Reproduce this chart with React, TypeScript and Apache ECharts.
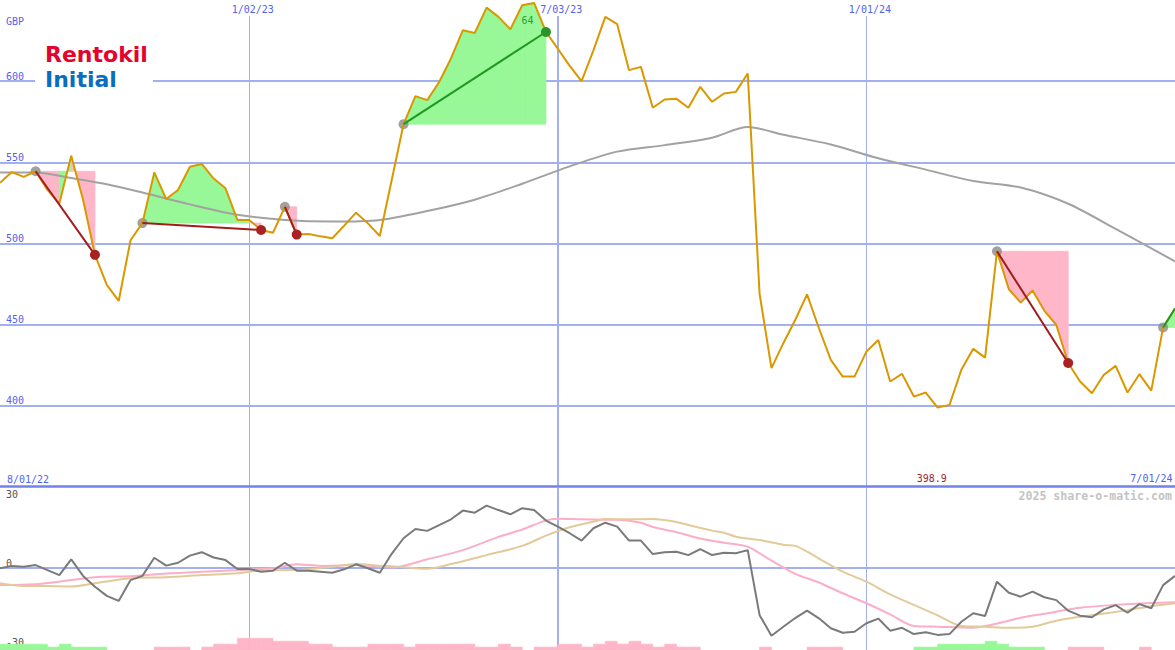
import React, { useEffect, useRef } from "react";
import * as echarts from "echarts";

// ---------- data ----------
const START_MS = Date.UTC(2022, 7, 8); // first weekly point (Monday)
const WEEK_MS = 7 * 86400000;
const WEEK_COUNT = 100;
const DATES: string[] = Array.from({ length: WEEK_COUNT }, (_, i) => {
  const d = new Date(START_MS + i * WEEK_MS);
  return `${d.getUTCMonth() + 1}/${String(d.getUTCDate()).padStart(2, "0")}/${String(d.getUTCFullYear() % 100).padStart(2, "0")}`;
});
const RANGE_START_LABEL = "8/01/22";
const CURRENCY = "GBP";
const WATERMARK = "2025 share-o-matic.com";

const PRICE = [
  537.4, 544, 541, 544.5, 533, 524.7, 554, 527, 493, 474.5,
  464.6, 502, 512.6, 543.8, 527.4, 533, 547.3, 549, 540, 534,
  514.5, 514.5, 508.3, 506.6, 522.6, 505.5, 505.8, 504.4, 503.2, 511,
  519, 512.4, 504.6, 539, 573.5, 590.8, 588.3, 599.5, 614, 631.4,
  629.7, 645.3, 639.6, 632, 646.8, 648.2, 630.3, 620, 609.4, 600,
  619, 639.6, 635.1, 606.8, 608.8, 583.6, 588.7, 589.1, 583.6, 596.5,
  587.3, 592.4, 593.4, 604.7, 469, 423.2, 438.6, 452.9, 468.7, 447.8,
  428.3, 418, 418, 433.4, 440.6, 415, 419.7, 405.7, 408.2, 398.9,
  400.6, 422.2, 435.1, 429.7, 495.2, 471.8, 463.6, 471, 458.5, 449.8,
  426.4, 415, 407.8, 419.1, 424.6, 408.2, 419.5, 409.4, 448.3, 460,
];

// long moving average: [week index, value]
const MA_LONG = [
  [0, 543.8], [3, 543.8], [6, 540.3], [9, 536.5], [12, 531.4], [16, 524.1],
  [20, 517.7], [24, 514.5], [28, 513.5], [32, 514.5], [36, 520], [40, 527],
  [44, 536.8], [48, 547.5], [52, 556.6], [56, 560.6], [60, 565.2], [63, 571.8],
  [66, 567], [70, 561], [74, 552.5], [78, 545.5], [82, 538.5], [86, 534.5],
  [90, 524.5], [94, 509], [99, 489],
];

const MOMENTUM = [
  -0.1, 0.8, 0.5, 1.1, -0.8, -2.7, 3.3, -3, -7.1, -10.6,
  -12.5, -4.6, -3, 3.9, 0.9, 2, 4.7, 6, 4, 3,
  -0.4, -0.4, -1.4, -1, 2, -1, -1, -1.4, -1.8, -0.5,
  1.4, -0.1, -1.8, 5.4, 11.3, 14.8, 14.1, 16.3, 18.5, 21.8,
  21, 23.7, 22, 20.4, 22.7, 22, 18, 15.7, 13.2, 10.4,
  15.1, 17.2, 15.7, 10.4, 10.4, 5.3, 6, 6.2, 4.9, 7.2,
  4.9, 5.8, 5.6, 6.8, -17.9, -25.7, -22.3, -19, -16.2, -19.1,
  -22.9, -24.6, -24.2, -21, -19.2, -23.8, -22.7, -25.1, -24.4, -25.4,
  -25.1, -20.4, -17.2, -18.2, -5.2, -9.4, -10.9, -9, -11.1, -12.2,
  -16.2, -18.1, -18.7, -15.7, -14.1, -17, -13.7, -15.3, -6.5, -3,
];

const PINK_AVG = [
  [0, -6.5], [3, -6.2], [6, -4.6], [8, -3.5], [11, -3.1], [14, -2.1], [17, -1.4],
  [20, -0.8], [23, -0.1], [25, 1.4], [27, 0.8], [30, 1.1], [33, 0.2], [36, 3.3],
  [39, 6.8], [42, 11.8], [44, 14.6], [46, 18.1], [47, 18.7], [49, 18.5], [52, 18.3],
  [54, 17.2], [55, 15.6], [57, 13.6], [59, 11.2], [61, 9.6], [63, 8.1], [64, 5.6],
  [65, 2.8], [67, -2.2], [69, -5.5], [71, -9.6], [73, -13.4], [75, -17.6], [77, -22],
  [79, -22.3], [82, -22.7], [84, -21.1], [86, -18.9], [88, -17.4], [91, -15.1],
  [94, -14], [97, -13.3], [99, -13],
];

const TAN_AVG = [
  [0, -5.8], [2, -6.8], [4, -6.8], [6, -7], [8, -5.8], [11, -3.9], [14, -3.5],
  [17, -2.7], [20, -2], [22, -0.9], [25, -0.8], [28, 0.5], [30, 1.5], [32, 0.8],
  [33, 0.7], [36, -0.3], [38, 1.5], [41, 4.9], [44, 8.4], [46, 12.3], [48, 15.5],
  [50, 17.6], [51, 18.6], [53, 18.5], [55, 18.6], [57, 17.5], [58, 16.3], [60, 14.2],
  [61, 13.4], [62, 11.9], [64, 10.6], [66, 8.8], [67, 8.4], [68, 6.2], [69, 3.6],
  [71, -1.4], [73, -5.2], [75, -10], [77, -14], [79, -18], [81, -22], [83, -22.3],
  [85, -22.7], [87, -22.3], [89, -20], [92, -17.9], [95, -16], [97, -14.5], [99, -13.4],
];

// signed signal bars: + green, - pink (height in steps)
const SIGNAL_BARS = [
  2, 2, 2, 2, 1, 2, 1, 1, 1, 0,
  0, 0, 0, -1, -1, -1, 0, -1, -2, -2,
  -4, -4, -4, -3, -3, -3, -2, -2, -1, -1,
  -1, -2, -2, -2, -1, -2, -2, -2, -2, -2,
  -1, -1, -2, -1, 0, -1, -1, -2, -2, -1,
  -2, -3, -2, -3, -2, -1, -2, -1, -1, 0,
  0, 0, 0, 0, -1, 0, 0, 0, -1, -1,
  -1, 0, 0, 0, 0, 0, 0, 1, 1, 2,
  2, 2, 2, 3, 2, 1, 1, 1, 0, 0,
  -1, -1, -1, 0, 0, 0, -1, 0, 0, 0,
];

const TRADES = [
  { start: 3, end: 8 },
  { start: 12, end: 22 },
  { start: 24, end: 25 },
  { start: 34, end: 46, label: "64" },
  { start: 84, end: 90 },
  { start: 98, end: 99, open: true },
];

const MARKER_IDX = [21, 47, 73];
const MARKER_WIDTH = [1, 2, 1];

// ---------- styles ----------
const MONO = '"DejaVu Sans Mono", monospace';
const BLUE_TEXT = "#5262ee";
const GRID_LINE = "#a3b0f0";
const SEPARATOR = "#7282ea";
const PRICE_COLOR = "#da9800";
const GREEN_FILL = "#98f898";
const PINK_FILL = "#ffb6c8";

// ---------- derived tables ----------
const FILL_DATA: number[][] = [];
TRADES.forEach((t) => {
  const lv = PRICE[t.start];
  for (let i = t.start; i < t.end; i++) {
    FILL_DATA.push([i, PRICE[i], PRICE[i + 1], lv, PRICE[i + 1] >= lv ? 1 : 0]);
  }
});
const TREND_DATA = TRADES.map((t, n) => [
  t.start, PRICE[t.start], t.end, PRICE[t.end],
  PRICE[t.end] >= PRICE[t.start] ? 1 : 0, t.open ? 1 : 0, n,
]);
const START_DOTS = TRADES.map((t) => [t.start, PRICE[t.start]]);
const BAR_DATA = SIGNAL_BARS.map((v, i) => [i, Math.abs(v), v > 0 ? 1 : 0]).filter((d) => d[1] > 0);
const MARKER_DATA = MARKER_IDX.map((idx, n) => [idx, MARKER_WIDTH[n]]);

function txt(text: string, fill: string, font: string, align: string, vAlign: string) {
  return { text, fill, font, align, textAlign: align, verticalAlign: vAlign, textVerticalAlign: vAlign };
}

function crisp(x: number, w: number) {
  return w % 2 === 1 ? Math.round(x - 0.5) + 0.5 : Math.round(x);
}

function buildOption(): any {
  const xCat = (gridIndex: number) => ({
    type: "category", gridIndex, data: DATES, boundaryGap: false, show: false,
  });
  return {
    animation: false,
    backgroundColor: "#ffffff",
    grid: [
      { left: 0, right: 0, top: 0, height: 487 },
      { left: 0, right: 0, top: 489, height: 158 },
      { left: 0, right: 0, top: 638.3, height: 11.7 },
    ],
    xAxis: [xCat(0), xCat(1), xCat(2)],
    yAxis: [
      {
        type: "value", gridIndex: 0, min: 350, max: 650, interval: 50,
        axisLine: { show: false }, axisTick: { show: false },
        axisLabel: {
          inside: true, margin: 6, color: BLUE_TEXT, fontSize: 10, fontFamily: MONO,
          verticalAlign: "bottom",
          formatter: (v: number) => (v === 350 || v === 650 ? "" : String(v)),
        },
        splitLine: {
          show: true,
          lineStyle: { width: 2, color: ["transparent", GRID_LINE, GRID_LINE, GRID_LINE, GRID_LINE, GRID_LINE, "transparent"] },
        },
      },
      {
        type: "value", gridIndex: 1, min: -30, max: 30, interval: 30,
        axisLine: { show: false }, axisTick: { show: false },
        axisLabel: {
          inside: true, margin: 6, color: "#555555", fontSize: 10, fontFamily: MONO,
          verticalAlign: "bottom", verticalAlignMaxLabel: "top",
        },
        splitLine: { show: true, lineStyle: { width: 2, color: ["transparent", GRID_LINE, "transparent"] } },
      },
      { type: "value", gridIndex: 2, min: 0, max: 4, show: false, splitLine: { show: false } },
    ],
    series: [
      {
        type: "custom", name: "markers", xAxisIndex: 0, yAxisIndex: 0, z: 1, silent: true,
        data: MARKER_DATA, encode: { x: 0 },
        renderItem: (params: any, api: any) => {
          const idx = api.value(0);
          const w = api.value(1);
          const x = api.coord([idx, 500])[0];
          const xl = crisp(x, w);
          const cs = params.coordSys;
          return {
            type: "group",
            children: [
              { type: "line", shape: { x1: xl, y1: cs.y + 16, x2: xl, y2: cs.y + cs.height }, style: { stroke: GRID_LINE, lineWidth: w } },
              { type: "text", x: x + 3.5, y: cs.y + 9, style: txt(DATES[idx], BLUE_TEXT, `10px ${MONO}`, "center", "middle") },
            ],
          };
        },
      },
      {
        type: "custom", name: "markersLower", xAxisIndex: 1, yAxisIndex: 1, z: 1, silent: true,
        data: MARKER_DATA, encode: { x: 0 },
        renderItem: (params: any, api: any) => {
          const idx = api.value(0);
          const w = api.value(1);
          const xl = crisp(api.coord([idx, 0])[0], w);
          const cs = params.coordSys;
          return { type: "line", shape: { x1: xl, y1: cs.y - 1, x2: xl, y2: cs.y + cs.height + 4 }, style: { stroke: GRID_LINE, lineWidth: w } };
        },
      },
      {
        type: "custom", name: "fills", xAxisIndex: 0, yAxisIndex: 0, z: 2, silent: true,
        data: FILL_DATA, encode: { x: 0, y: 1 },
        renderItem: (params: any, api: any) => {
          const i = api.value(0);
          const p0 = api.value(1);
          const p1 = api.value(2);
          const lv = api.value(3);
          const up = api.value(4);
          const pts = [api.coord([i, lv]), api.coord([i, p0]), api.coord([i + 1, p1]), api.coord([i + 1, lv])];
          const c = up ? GREEN_FILL : PINK_FILL;
          return { type: "polygon", shape: { points: pts }, style: { fill: c, stroke: c, lineWidth: 0.8 } };
        },
      },
      {
        type: "line", name: "MA", xAxisIndex: 0, yAxisIndex: 0, z: 3, silent: true,
        data: MA_LONG, symbol: "none", smooth: 0.3,
        lineStyle: { color: "#a2a2a2", width: 2 },
      },
      {
        type: "scatter", name: "starts", xAxisIndex: 0, yAxisIndex: 0, z: 4, silent: true,
        data: START_DOTS, symbolSize: 10, itemStyle: { color: "#8a8a8a" },
      },
      {
        type: "line", name: "price", xAxisIndex: 0, yAxisIndex: 0, z: 5, silent: true,
        data: PRICE, symbol: "none",
        lineStyle: { color: PRICE_COLOR, width: 2 },
        markPoint: {
          silent: true,
          symbol: "circle", symbolSize: 0.1, itemStyle: { color: "transparent" },
          data: [{ type: "min" }],
          label: {
            show: true, position: "inside", offset: [-5.8, 70.5], formatter: "{c}",
            color: "#a31d1d", fontSize: 10, fontFamily: MONO,
          },
        },
      },
      {
        type: "custom", name: "trends", xAxisIndex: 0, yAxisIndex: 0, z: 6, silent: true,
        data: TREND_DATA, encode: { x: 0, y: 1 },
        renderItem: (params: any, api: any) => {
          const a = api.coord([api.value(0), api.value(1)]);
          const b = api.coord([api.value(2), api.value(3)]);
          const gain = api.value(4);
          const open = api.value(5);
          const n = api.value(6);
          const children: any[] = [
            { type: "line", shape: { x1: a[0], y1: a[1], x2: b[0], y2: b[1] }, style: { stroke: gain ? "#1f9a1f" : "#a11d1d", lineWidth: 2 } },
          ];
          if (!open) {
            children.push({ type: "circle", shape: { cx: b[0], cy: b[1], r: 5 }, style: { fill: gain ? "#2a932a" : "#a82222" } });
          }
          const lab = (TRADES[n] as any).label;
          if (lab) {
            children.push({ type: "text", x: b[0] - 18.5, y: b[1] - 11, style: txt(lab, "#2f9f2f", `10px ${MONO}`, "center", "middle") });
          }
          return { type: "group", children };
        },
      },
      {
        type: "line", name: "pinkAvg", xAxisIndex: 1, yAxisIndex: 1, z: 3, silent: true,
        data: PINK_AVG, symbol: "none", smooth: 0.3, lineStyle: { color: "#fcaec8", width: 2 },
      },
      {
        type: "line", name: "tanAvg", xAxisIndex: 1, yAxisIndex: 1, z: 3, silent: true,
        data: TAN_AVG, symbol: "none", smooth: 0.3, lineStyle: { color: "#e2ca9a", width: 2 },
      },
      {
        type: "line", name: "momentum", xAxisIndex: 1, yAxisIndex: 1, z: 4, silent: true,
        data: MOMENTUM, symbol: "none", lineStyle: { color: "#7a7a7a", width: 2 },
      },
      {
        type: "custom", name: "bars", xAxisIndex: 2, yAxisIndex: 2, z: 5, silent: true,
        data: BAR_DATA, encode: { x: 0, y: 1 },
        renderItem: (params: any, api: any) => {
          const i = api.value(0);
          const h = api.value(1);
          const g = api.value(2);
          const p0 = api.coord([i, 0]);
          const p1 = api.coord([i + 1, h]);
          const c = g ? GREEN_FILL : PINK_FILL;
          return {
            type: "rect",
            shape: { x: p0[0], y: p1[1], width: p1[0] - p0[0], height: p0[1] - p1[1] },
            style: { fill: c, stroke: c, lineWidth: 0.6 },
          };
        },
      },
    ],
    graphic: [
      { type: "rect", z: 50, shape: { x: 35, y: 38, width: 118, height: 54 }, style: { fill: "#ffffff" } },
      { type: "text", z: 51, x: 45, y: 54.6, style: txt("Rentokil", "#e4032c", 'bold 22px "DejaVu Sans"', "left", "middle") },
      { type: "text", z: 51, x: 45, y: 79.6, style: txt("Initial", "#0a6ebf", 'bold 22px "DejaVu Sans"', "left", "middle") },
      { type: "text", z: 51, x: 6, y: 21.5, style: txt(CURRENCY, BLUE_TEXT, `10px ${MONO}`, "left", "middle") },
      { type: "text", z: 51, x: 7, y: 479, style: txt(RANGE_START_LABEL, BLUE_TEXT, `10px ${MONO}`, "left", "middle") },
      { type: "text", z: 51, x: 1172.5, y: 478.5, style: txt(DATES[DATES.length - 1], BLUE_TEXT, `10px ${MONO}`, "right", "middle") },
      { type: "rect", z: 50, shape: { x: 0, y: 485.3, width: 1175, height: 2.4 }, style: { fill: SEPARATOR } },
      { type: "text", z: 51, x: 1172, y: 496, style: txt(WATERMARK, "#c4c4c4", `bold 11.6px ${MONO}`, "right", "middle") },
    ],
  };
}

export default function App() {
  const ref = useRef<HTMLDivElement>(null);
  useEffect(() => {
    document.body.style.margin = "0";
    const chart = echarts.init(ref.current as HTMLDivElement, undefined, { renderer: "svg" });
    chart.setOption(buildOption());
    return () => chart.dispose();
  }, []);
  return <div ref={ref} style={{ position: "absolute", left: 0, top: 0, width: 1175, height: 650 }} />;
}
